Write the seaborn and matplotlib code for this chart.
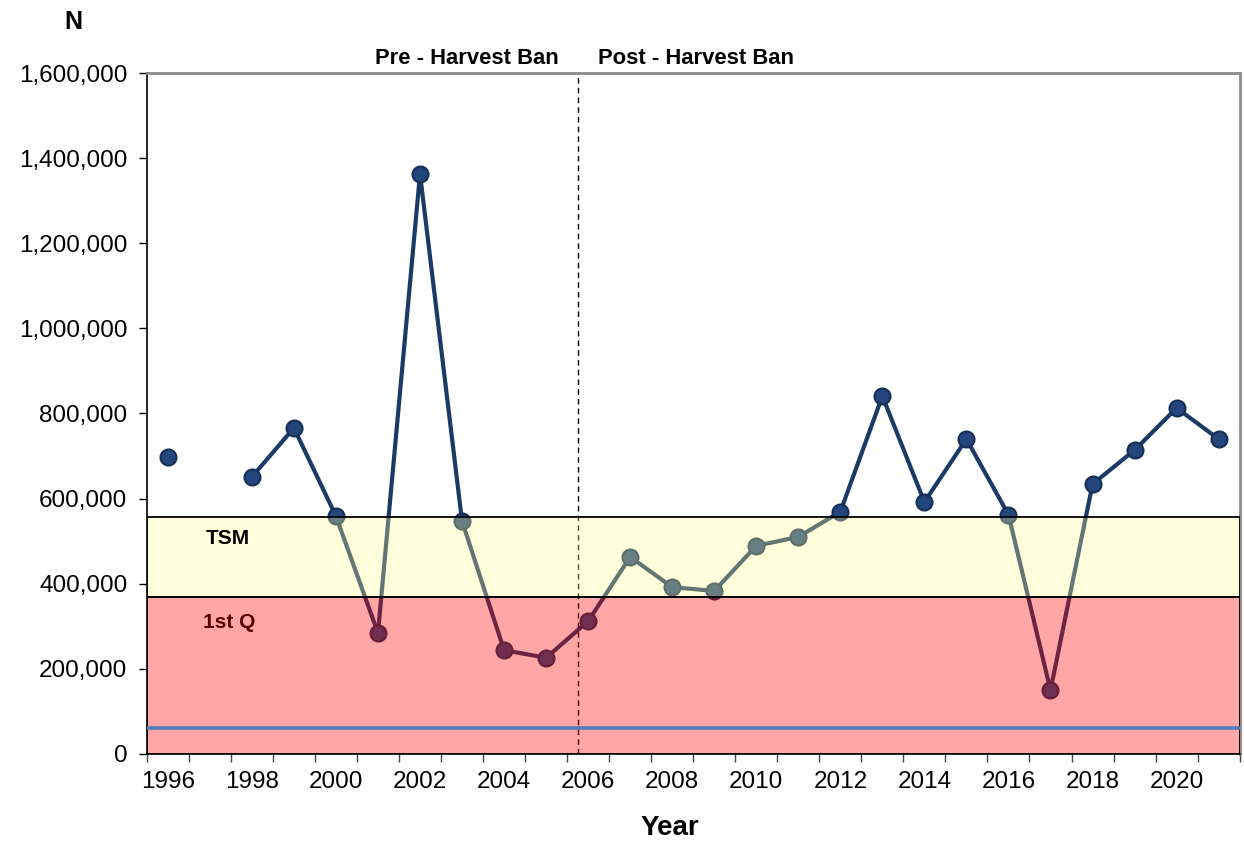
import numpy as np
import pandas as pd
import matplotlib
matplotlib.use("Agg")
import matplotlib.pyplot as plt
import matplotlib.ticker as mticker
import seaborn as sns

sns.set_style("ticks")
plt.rcParams["font.family"] = ["Liberation Sans", "DejaVu Sans"]
plt.rcParams["text.color"] = "black"
plt.rcParams["xtick.color"] = "black"
plt.rcParams["ytick.color"] = "black"
plt.rcParams["xtick.labelcolor"] = "black"
plt.rcParams["ytick.labelcolor"] = "black"

# abundance estimates per year (1997 missing)
years = [1996, 1997, 1998, 1999, 2000, 2001, 2002, 2003, 2004, 2005, 2006, 2007, 2008,
         2009, 2010, 2011, 2012, 2013, 2014, 2015, 2016, 2017, 2018, 2019, 2020, 2021]
abundance = [698000, np.nan, 651000, 766000, 559000, 284000, 1363000, 547000, 244000,
             226000, 312000, 463000, 392000, 383000, 489000, 510000, 569000, 841000,
             592000, 740000, 562000, 150000, 634000, 714000, 813000, 740000]

tsm_upper = 557000
first_q_upper = 370000
limit_line = 60000
ban_year = 2005.76

df = pd.DataFrame({"year": years, "n": abundance})
# split where data is missing so the line is broken
df["segment"] = df["n"].isna().cumsum()
df = df.dropna(subset=["n"])

fig, ax = plt.subplots(figsize=(12.44, 8.43), dpi=100)
fig.subplots_adjust(left=0.118, right=0.9965, top=0.9134, bottom=0.1056)

navy = "#1C3A66"

sns.lineplot(
    data=df, x="year", y="n", units="segment", estimator=None,
    color=navy, linewidth=3.0, marker="o", markersize=11.5,
    markerfacecolor="#23477C", markeredgecolor="#162F57", markeredgewidth=1.5,
    ax=ax, zorder=2, legend=False
)

ax.axvline(ban_year, color="black", linestyle=(0, (4, 3)), linewidth=1.0, zorder=2)

ax.text(1997.45, 310000, "1st Q", fontsize=15, fontweight="bold",
        ha="center", va="center", color="black", zorder=2)

# translucent bands on top of the series
ax.axhspan(first_q_upper, tsm_upper, facecolor=(1.0, 1.0, 0.57, 0.31),
           edgecolor="black", linewidth=1.3, zorder=3)
ax.axhspan(0, first_q_upper, facecolor=(1.0, 0.0, 0.0, 0.35),
           edgecolor="black", linewidth=1.3, zorder=3)

ax.axhline(limit_line, color="#4F81BD", linewidth=2.6, zorder=4)

ax.text(1997.43, 507000, "TSM", fontsize=15, fontweight="bold",
        ha="center", va="center", color="black", zorder=5)

trans = ax.get_xaxis_transform()
ax.text(ban_year - 0.47, 1.022, "Pre - Harvest Ban", transform=trans, fontsize=15.8,
        fontweight="bold", ha="right", va="center")
ax.text(ban_year + 0.47, 1.022, "Post - Harvest Ban", transform=trans, fontsize=15.8,
        fontweight="bold", ha="left", va="center")

ax.set_xlim(1995.5, 2021.5)
ax.set_ylim(0, 1600000)

ax.set_yticks(np.arange(0, 1600001, 200000))
ax.yaxis.set_major_formatter(mticker.FuncFormatter(lambda v, p: f"{int(v):,}"))

ax.set_xticks(np.arange(1996, 2021, 2))
ax.set_xticks(np.arange(1995.5, 2022, 1), minor=True)
ax.tick_params(axis="x", which="major", length=0, labelsize=17.5, pad=12)
ax.tick_params(axis="x", which="minor", length=6, width=1.0, color="#444444")
ax.tick_params(axis="y", length=6, width=1.0, labelsize=17.5, pad=8)

ax.set_xlabel("")
ax.set_ylabel("")

for side in ["left", "bottom"]:
    ax.spines[side].set_color("black")
    ax.spines[side].set_linewidth(1.2)
for side in ["top", "right"]:
    ax.spines[side].set_visible(True)
    ax.spines[side].set_color("#8C8C8C")
    ax.spines[side].set_linewidth(2.0)

fig.text(0.0587, 0.974, "N", fontsize=18, fontweight="bold", ha="center", va="center")
fig.text(0.5386, 0.0178, "Year", fontsize=20, fontweight="bold", ha="center", va="center")

fig.savefig("out.png", dpi=100)
